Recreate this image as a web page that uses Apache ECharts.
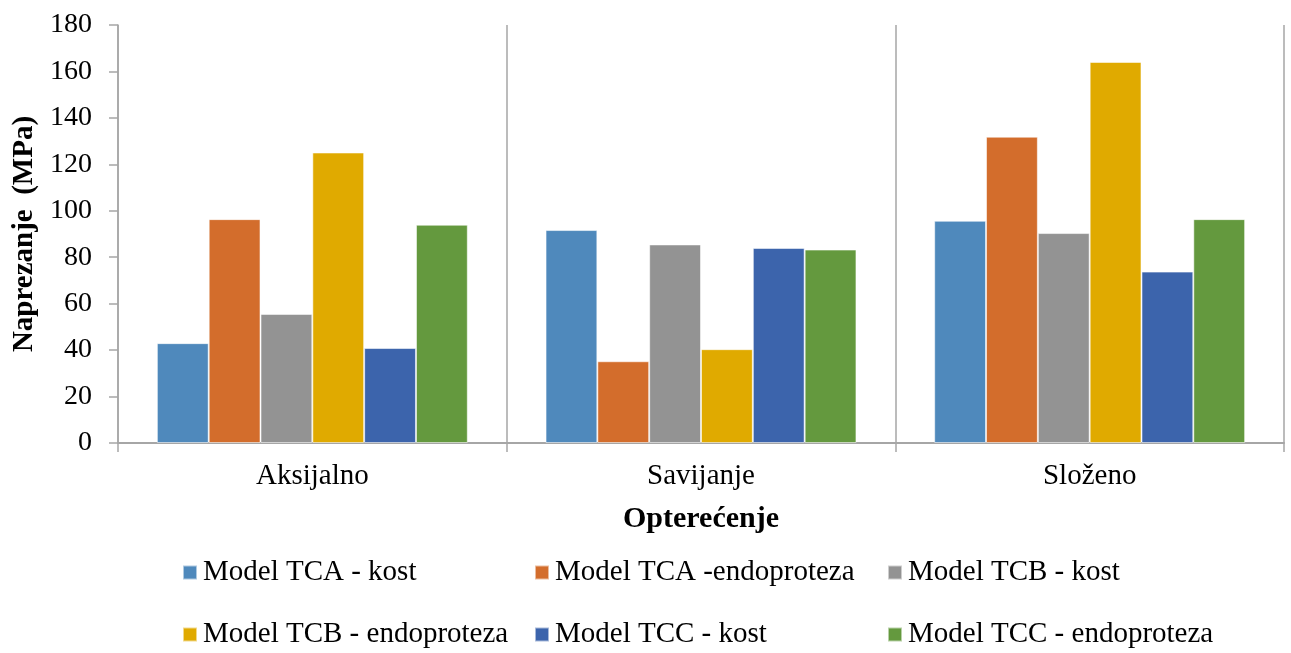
<!DOCTYPE html>
<html>
<head>
<meta charset="utf-8">
<script src="https://cdn.jsdelivr.net/npm/echarts@6/dist/echarts.min.js"></script>
<style>
  html, body { margin: 0; padding: 0; background: #ffffff; }
  #chart { width: 1291px; height: 653px; }
</style>
</head>
<body>
<div id="chart"></div>
<script>
// Load cases on the category axis
const categories = ['Aksijalno', 'Savijanje', 'Složeno'];

// Stress values (MPa) per model and load case
const tcaKost = [43, 91.7, 95.7];
const tcaEndo = [96.4, 35.2, 131.9];
const tcbKost = [55.6, 85.5, 90.4];
const tcbEndo = [125.1, 40.4, 164.1];
const tccKost = [40.9, 84.0, 73.8];
const tccEndo = [94.0, 83.3, 96.4];

const seriesNames = [
  'Model TCA - kost',
  'Model TCA -endoproteza',
  'Model TCB - kost',
  'Model TCB - endoproteza',
  'Model TCC - kost',
  'Model TCC - endoproteza'
];
const seriesValues = [tcaKost, tcaEndo, tcbKost, tcbEndo, tccKost, tccEndo];
const colors = ['#4f89bc', '#d36d2c', '#939393', '#e0aa00', '#3c64ac', '#64993e'];

const yTicks = { min: 0, max: 180, interval: 20 };

const FONT = '"Liberation Serif", "Times New Roman", serif';
const AXIS_GRAY = '#a6a6a6';

// Legend grid: three columns, two rows; one legend component per entry
const legendCols = [182, 534, 887];
const legendRows = [558, 620];

const legends = seriesNames.map((name, i) => ({
  data: [name],
  left: legendCols[i % 3],
  top: legendRows[Math.floor(i / 3)],
  padding: 0,
  itemWidth: 14, itemHeight: 14, itemGap: 0,
  icon: 'rect',
  textStyle: { fontFamily: FONT, fontSize: 29, color: '#000', padding: [0, 0, 0, 1] },
  selectedMode: false
}));

const chart = echarts.init(document.getElementById('chart'), null, { renderer: 'canvas' });

chart.setOption({
  animation: false,
  color: colors,
  grid: { left: 118, right: 7, top: 25, bottom: 210, containLabel: false },
  legend: legends,
  xAxis: {
    type: 'category',
    data: categories,
    boundaryGap: true,
    name: 'Opterećenje',
    nameLocation: 'middle',
    nameGap: 61,
    nameTextStyle: { fontFamily: FONT, fontSize: 30, fontWeight: 'bold', color: '#000' },
    axisLine: { show: true, lineStyle: { color: AXIS_GRAY, width: 2 } },
    axisTick: { show: true, length: 9, alignWithLabel: false, lineStyle: { color: AXIS_GRAY, width: 1.5 } },
    axisLabel: { fontFamily: FONT, fontSize: 29, color: '#000', margin: 19 },
    splitLine: { show: true, lineStyle: { color: AXIS_GRAY, width: 1.5 } }
  },
  yAxis: {
    type: 'value',
    min: yTicks.min,
    max: yTicks.max,
    interval: yTicks.interval,
    name: 'Naprezanje  (MPa)',
    nameLocation: 'middle',
    nameGap: 74,
    nameRotate: 90,
    nameTextStyle: { fontFamily: FONT, fontSize: 29, fontWeight: 'bold', color: '#000' },
    axisLine: { show: true, lineStyle: { color: AXIS_GRAY, width: 1.5 } },
    axisTick: { show: true, length: 9, lineStyle: { color: AXIS_GRAY, width: 1.5 } },
    axisLabel: { fontFamily: FONT, fontSize: 28, color: '#000', margin: 26 },
    splitLine: { show: false }
  },
  series: seriesNames.map((name, i) => ({
    name,
    type: 'bar',
    data: seriesValues[i],
    barGap: '0%',
    barCategoryGap: '20%',
    itemStyle: { color: colors[i], borderColor: 'rgba(255,255,255,0.55)', borderWidth: 1 }
  }))
});
</script>
</body>
</html>
